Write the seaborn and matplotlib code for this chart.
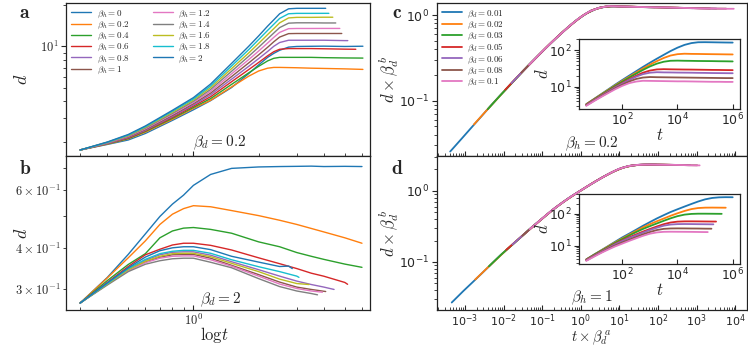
import numpy as np
import matplotlib
matplotlib.use("Agg")
import matplotlib.pyplot as plt
import matplotlib.ticker as mticker
import seaborn as sns

sns.set_theme(style="white")
plt.rcParams["font.family"] = ["DejaVu Sans"]
plt.rcParams["mathtext.fontset"] = "cm"

# ---------------- data ----------------
PALETTE = ["#1f77b4", "#ff7f0e", "#2ca02c", "#d62728", "#9467bd", "#8c564b",
           "#e377c2", "#7f7f7f", "#bcbd22", "#17becf", "#1f77b4"]

# panel a  (beta_d = 0.2)
A_BETA_H = [0, 0.2, 0.4, 0.6, 0.8, 1, 1.2, 1.4, 1.6, 1.8, 2]
A_X_COMMON = [0.3, 0.4, 0.5, 0.6, 0.8, 1.0, 1.2, 1.5, 1.8, 2.0, 2.2, 2.35, 2.5, 2.75, 3.0, 3.5]
A_X_TAIL = [[4.0, 5.0, 6.06], [4.0, 5.0, 6.06], [4.0, 5.0, 6.06], [4.0, 5.0, 5.62],
            [4.0, 5.0, 5.16], [4.0, 4.84], [4.0, 4.74], [4.0, 4.54], [4.0, 4.4],
            [4.0, 4.22], [4.0, 4.08]]
A_D = [
    [1.75, 1.92, 2.07, 2.31, 2.88, 3.44, 4.01, 5.0, 6.32, 7.31, 8.30, 8.88, 9.35, 9.86, 9.97, 10.0, 10.02, 9.97, 10.01],
    [1.75, 1.93, 2.11, 2.36, 2.93, 3.52, 4.03, 5.05, 6.05, 6.60, 6.92, 7.01, 7.01, 6.99, 6.97, 6.92, 6.89, 6.84, 6.78],
    [1.75, 1.94, 2.12, 2.39, 2.98, 3.58, 4.15, 5.27, 6.40, 7.14, 7.82, 8.17, 8.30, 8.30, 8.30, 8.30, 8.26, 8.22, 8.20],
    [1.75, 1.95, 2.14, 2.42, 3.03, 3.66, 4.28, 5.51, 6.76, 7.62, 8.52, 9.13, 9.51, 9.62, 9.62, 9.62, 9.59, 9.53, 9.51],
    [1.75, 1.95, 2.16, 2.44, 3.08, 3.73, 4.42, 5.75, 7.14, 8.13, 9.16, 10.0, 10.65, 11.07, 11.07, 11.07, 11.07, 11.0, 11.0],
    [1.75, 1.96, 2.18, 2.47, 3.13, 3.81, 4.55, 6.01, 7.56, 8.66, 9.83, 10.79, 11.67, 12.37, 12.40, 12.40, 12.4, 12.4],
    [1.75, 1.97, 2.20, 2.50, 3.19, 3.89, 4.69, 6.29, 8.00, 9.23, 10.56, 11.62, 12.63, 13.45, 13.49, 13.49, 13.5, 13.5],
    [1.75, 1.98, 2.22, 2.53, 3.24, 3.97, 4.84, 6.57, 8.46, 9.84, 11.34, 12.50, 13.69, 14.75, 14.84, 14.84, 14.8, 14.8],
    [1.75, 1.99, 2.23, 2.56, 3.30, 4.05, 4.99, 6.87, 8.94, 10.5, 12.17, 13.46, 14.82, 16.11, 16.26, 16.26, 16.3, 16.3],
    [1.75, 1.99, 2.25, 2.59, 3.36, 4.13, 5.14, 7.18, 9.46, 11.2, 13.06, 14.49, 15.97, 17.28, 17.39, 17.39, 17.4, 17.4],
    [1.75, 2.00, 2.27, 2.62, 3.41, 4.22, 5.30, 7.50, 10.0, 11.9, 14.03, 15.6, 17.27, 18.78, 18.93, 18.93, 18.93, 18.93],
]

# panel b  (beta_d = 2)
B_X_COMMON = [0.3, 0.4, 0.5, 0.6, 0.7, 0.8, 0.9, 1.0, 1.2, 1.5, 2.0, 2.5]
B_X_TAIL = [[3.0, 3.5, 4.0, 5.0, 6.0], [3.0, 3.5, 4.0, 5.0, 6.0], [3.0, 3.5, 4.0, 5.0, 6.0],
            [3.0, 3.5, 4.0, 5.0, 5.15], [3.0, 3.5, 4.0, 4.46], [3.0, 3.5, 4.08],
            [3.0, 3.5, 3.94], [3.0, 3.5, 3.74], [3.0, 3.42], [3.0, 3.07], [2.75, 2.86]]
B_D = [
    [0.272, 0.325, 0.382, 0.441, 0.498, 0.543, 0.578, 0.619, 0.668, 0.697, 0.704, 0.706, 0.707, 0.708, 0.706, 0.707, 0.706],
    [0.272, 0.324, 0.373, 0.420, 0.471, 0.506, 0.526, 0.537, 0.533, 0.519, 0.501, 0.485, 0.471, 0.458, 0.447, 0.429, 0.413],
    [0.272, 0.318, 0.356, 0.384, 0.429, 0.450, 0.459, 0.461, 0.455, 0.443, 0.417, 0.403, 0.387, 0.377, 0.369, 0.357, 0.349],
    [0.272, 0.314, 0.351, 0.381, 0.396, 0.408, 0.413, 0.413, 0.407, 0.394, 0.373, 0.358, 0.346, 0.335, 0.328, 0.314, 0.310],
    [0.272, 0.312, 0.3445, 0.3666, 0.381, 0.3877, 0.389, 0.389, 0.380, 0.363, 0.3433, 0.3282, 0.317, 0.3095, 0.304, 0.299],
    [0.272, 0.3105, 0.342, 0.363, 0.3745, 0.381, 0.382, 0.382, 0.372, 0.354, 0.3317, 0.3148, 0.304, 0.299, 0.2947],
    [0.272, 0.3095, 0.341, 0.3605, 0.372, 0.377, 0.378, 0.378, 0.368, 0.3518, 0.3282, 0.3105, 0.301, 0.2958, 0.2933],
    [0.272, 0.3083, 0.3387, 0.3566, 0.3655, 0.3705, 0.372, 0.372, 0.3616, 0.348, 0.3225, 0.3051, 0.2958, 0.2906, 0.288],
    [0.272, 0.3105, 0.3433, 0.364, 0.377, 0.384, 0.385, 0.385, 0.376, 0.359, 0.3387, 0.3214, 0.3116, 0.3095],
    [0.272, 0.3116, 0.346, 0.369, 0.384, 0.3905, 0.393, 0.393, 0.385, 0.368, 0.3505, 0.3387, 0.3282, 0.3254],
    [0.272, 0.313, 0.348, 0.375, 0.392, 0.400, 0.403, 0.403, 0.395, 0.377, 0.362, 0.351, 0.352, 0.346],
]

# panels c, d : raw d(t) for several beta_d (insets); main plots rescaled
BETA_D = [0.01, 0.02, 0.03, 0.05, 0.06, 0.08, 0.1]
T_GRID = [5, 10, 18, 32, 56, 100, 180, 320, 560, 1000, 1800, 3200, 5600, 1e4,
          1.8e4, 3.2e4, 5.6e4, 1e5, 1.8e5, 3.2e5, 5.6e5, 1e6]
C_EXP_A, C_EXP_B = 2.04, 1.06
C_D = [
    [3.35, 4.76, 6.43, 8.61, 11.5, 15.3, 20.3, 26.7, 34.9, 45.5, 58.9, 75.2, 95.1, 117.8, 140.6, 157.4, 166.0, 166.7, 165.6, 164.4, 163.3, 162.5],
    [3.33, 4.71, 6.28, 8.36, 11.0, 14.5, 18.9, 24.6, 31.6, 40.3, 50.5, 61.7, 71.8, 78.2, 80.5, 79.6, 79.3, 78.7, 78.2, 77.8, 77.3, 76.9],
    [3.27, 4.62, 6.12, 8.09, 10.6, 13.8, 17.9, 22.9, 28.9, 36.0, 43.1, 48.6, 51.6, 52.1, 51.6, 51.3, 50.9, 50.7, 50.5, 50.1, 49.9, 49.5],
    [3.21, 4.47, 5.86, 7.64, 9.91, 12.7, 16.1, 20.1, 24.3, 27.8, 29.9, 30.4, 30.1, 29.9, 29.7, 29.6, 29.4, 29.2, 29.0, 28.9, 28.7, 28.6],
    [3.16, 4.40, 5.73, 7.46, 9.62, 12.2, 15.4, 18.9, 22.2, 24.3, 25.1, 24.8, 24.7, 24.5, 24.4, 24.3, 24.1, 24.0, 23.8, 23.7, 23.6, 23.5],
    [3.09, 4.26, 5.53, 7.13, 9.08, 11.4, 14.0, 16.4, 17.9, 18.5, 18.3, 18.2, 18.1, 18.0, 17.9, 17.8, 17.7, 17.6, 17.5, 17.4, 17.3, 17.3],
    [3.01, 4.14, 5.35, 6.82, 8.59, 10.6, 12.6, 13.9, 14.6, 14.5, 14.4, 14.3, 14.2, 14.1, 14.1, 14.0, 13.9, 13.8, 13.7, 13.7, 13.6, 13.6],
]
D_EXP_A, D_EXP_B = 2.02, 1.075
D_T_END = [None, None, 4e5, 2.5e5, 2e5, 1.7e5, 1.25e5]
D_D = [
    [3.81, 5.53, 7.48, 10.1, 13.6, 18.4, 24.3, 32.1, 42.3, 55.2, 71.9, 91.0, 113.5, 138.4, 168.3, 202.8, 241.5, 281.8, 311.9, 325.8, 329.6, 328.1],
    [3.80, 5.45, 7.35, 9.86, 13.0, 17.1, 22.5, 29.3, 37.8, 47.5, 58.7, 71.4, 86.7, 103.8, 122.7, 140.3, 151.4, 155.6, 156.3, 155.6, 154.9],
    [3.77, 5.41, 7.18, 9.46, 12.5, 16.3, 21.2, 27.0, 33.7, 41.3, 50.2, 60.7, 72.3, 84.5, 94.4, 99.3, 100.9, 100.9, 100.5, 100.0, 99.8],
    [3.71, 5.16, 6.81, 8.91, 11.6, 14.9, 18.6, 22.9, 27.9, 33.7, 40.4, 47.6, 53.6, 57.1, 58.2, 58.3, 58.1, 57.8, 57.5, 57.4],
    [3.63, 5.06, 6.67, 8.69, 11.3, 14.2, 17.6, 21.4, 25.9, 31.2, 36.9, 42.8, 46.3, 47.8, 48.1, 47.9, 47.6, 47.4, 47.1, 47.1],
    [3.52, 4.90, 6.38, 8.28, 10.4, 12.9, 15.7, 19.1, 22.9, 27.1, 31.3, 34.0, 35.0, 35.2, 35.1, 34.9, 34.8, 34.5, 34.4],
    [3.44, 4.74, 6.18, 7.80, 9.70, 11.8, 14.4, 17.3, 20.6, 24.0, 26.4, 27.5, 27.7, 27.6, 27.5, 27.4, 27.2, 27.0, 27.0],
]

# ---------------- figure ----------------
W, H = 748, 347
fig = plt.figure(figsize=(W / 100, H / 100), dpi=100)


def px_axes(l, t, r, b):
    return fig.add_axes([l / W, 1 - b / H, (r - l) / W, (b - t) / H])


def cm_major(v, pos):
    return r"$10^{%d}$" % int(round(np.log10(v)))


def cm_minor(v, pos):
    e = int(np.floor(np.log10(v) + 1e-9))
    m = int(round(v / 10 ** e))
    return r"$%d\times10^{%d}$" % (m, e) if m in (3, 4, 6) else ""


def style(ax, size=9, xsize=None):
    ax.set_xscale("log")
    ax.set_yscale("log")
    for s in ax.spines.values():
        s.set_visible(True)
        s.set_color("#222222")
        s.set_linewidth(0.9)
    ax.tick_params(axis="x", which="both", direction="in", bottom=True,
                   labelsize=xsize or size, pad=2.0)
    ax.tick_params(axis="y", which="both", direction="out", left=True,
                   labelsize=size, pad=2)
    ax.tick_params(which="major", length=3.5, width=0.8)
    ax.tick_params(which="minor", length=2, width=0.6)


axA = px_axes(66, 3, 369.5, 156)
axB = px_axes(66, 156, 369.5, 310)
axC = px_axes(436.7, 3, 746.5, 156)
axD = px_axes(436.7, 156, 746.5, 310)
for ax in (axA, axB):
    style(ax)
for ax in (axC, axD):
    style(ax, xsize=8)

LEG_KW = dict(frameon=False, fontsize=6.5, handlelength=2.2, handletextpad=0.6,
              labelspacing=0.0, borderaxespad=0.2)

# panel a
for i, bh in enumerate(A_BETA_H):
    xs = A_X_COMMON + A_X_TAIL[i]
    sns.lineplot(x=xs, y=A_D[i], ax=axA, color=PALETTE[i], lw=1.0,
                 label=r"$\beta_h=%g$" % bh)
axA.set_xlim(0.258, 6.5)
axA.set_ylim(10 ** 0.199, 10 ** 1.316)
axA.legend(loc="upper left", ncol=2, columnspacing=2.6, **LEG_KW)
axA.xaxis.set_major_formatter(mticker.NullFormatter())
axA.xaxis.set_minor_formatter(mticker.NullFormatter())
axA.yaxis.set_major_formatter(mticker.FuncFormatter(cm_major))
axA.yaxis.set_minor_formatter(mticker.NullFormatter())
axA.set_ylabel(r"$d$", fontsize=13)
axA.yaxis.set_label_coords(-0.115, 0.5)
axA.set_xlabel("")
axA.text(0.505, 0.085, r"$\beta_d=0.2$", transform=axA.transAxes,
         ha="center", va="center", fontsize=11)

# panel b
for i, bh in enumerate(A_BETA_H):
    xs = B_X_COMMON + B_X_TAIL[i]
    sns.lineplot(x=xs, y=B_D[i], ax=axB, color=PALETTE[i], lw=1.0, legend=False)
axB.set_xlim(0.258, 6.5)
axB.set_ylim(0.259, 0.76)
axB.xaxis.set_major_formatter(mticker.FuncFormatter(cm_major))
axB.xaxis.set_minor_formatter(mticker.NullFormatter())
axB.yaxis.set_major_formatter(mticker.FuncFormatter(cm_major))
axB.yaxis.set_minor_formatter(mticker.FuncFormatter(cm_minor))
axB.set_ylabel(r"$d$", fontsize=13)
axB.yaxis.set_label_coords(-0.115, 0.5)
axB.set_xlabel(r"$\mathrm{log}t$", fontsize=12)
axB.xaxis.set_label_coords(0.49, -0.1)
axB.text(0.51, 0.065, r"$\beta_d=2$", transform=axB.transAxes,
         ha="center", va="center", fontsize=11)

# panels c, d (main + inset)
insC = px_axes(579, 39, 740, 109)
insD = px_axes(579, 194, 740, 264)
for ax in (insC, insD):
    style(ax)

for i, bd in enumerate(BETA_D):
    t = np.array(T_GRID, dtype=float)
    d = np.array(C_D[i])
    sns.lineplot(x=t, y=d, ax=insC, color=PALETTE[i], lw=1.3, legend=False)
    sns.lineplot(x=t * bd ** C_EXP_A, y=d * bd ** C_EXP_B, ax=axC, color=PALETTE[i],
                 lw=1.3, label=r"$\beta_d=%g$" % bd)

for i, bd in enumerate(BETA_D):
    n = len(D_D[i])
    tl = list(T_GRID[:n]) if D_T_END[i] is None else list(T_GRID[:n - 1]) + [D_T_END[i]]
    t = np.array(tl, dtype=float)
    d = np.array(D_D[i])
    sns.lineplot(x=t, y=d, ax=insD, color=PALETTE[i], lw=1.3, legend=False)
    sns.lineplot(x=t * bd ** D_EXP_A, y=d * bd ** D_EXP_B, ax=axD, color=PALETTE[i],
                 lw=1.3, legend=False)

for ax in (axC, axD):
    ax.set_xlim(10 ** -3.73, 10 ** 4.29)
    ax.xaxis.set_major_locator(mticker.LogLocator(numticks=20))
    ax.xaxis.set_minor_locator(mticker.LogLocator(subs=np.arange(2, 10), numticks=20))
axC.set_ylim(10 ** -1.647, 10 ** 0.141)
axD.set_ylim(10 ** -1.674, 10 ** 0.488)
axC.xaxis.set_major_formatter(mticker.NullFormatter())
axC.xaxis.set_minor_formatter(mticker.NullFormatter())
axC.legend(loc="upper left", **LEG_KW)
axC.set_xlabel("")
axC.set_ylabel(r"$d\times\beta_d^{\,b}$", fontsize=12)
axC.yaxis.set_label_coords(-0.115, 0.5)
axD.set_ylabel(r"$d\times\beta_d^{\,b}$", fontsize=12)
axD.yaxis.set_label_coords(-0.115, 0.5)
axD.set_xlabel(r"$t\times\beta_d^{\,a}$", fontsize=10.5)
axD.xaxis.set_label_coords(0.5, -0.118)
axC.text(0.5, 0.078, r"$\beta_h=0.2$", transform=axC.transAxes,
         ha="center", va="center", fontsize=11)
axD.text(0.5, 0.078, r"$\beta_h=1$", transform=axD.transAxes,
         ha="center", va="center", fontsize=11)

for ins in (insC, insD):
    ins.set_xlabel(r"$t$", fontsize=12)
    ins.set_ylabel(r"$d$", fontsize=12)
    ins.yaxis.set_label_coords(-0.17, 0.5)
    ins.xaxis.set_label_coords(0.5, -0.24)
    ins.yaxis.set_minor_formatter(mticker.NullFormatter())

# panel letters
for txt, x, y in (("a", 25, 13), ("b", 25, 168), ("c", 397, 13), ("d", 397, 168)):
    fig.text(x / W, 1 - y / H, r"$\mathbf{%s}$" % txt, fontsize=14,
             ha="center", va="center")

fig.savefig("out.png", dpi=100)
